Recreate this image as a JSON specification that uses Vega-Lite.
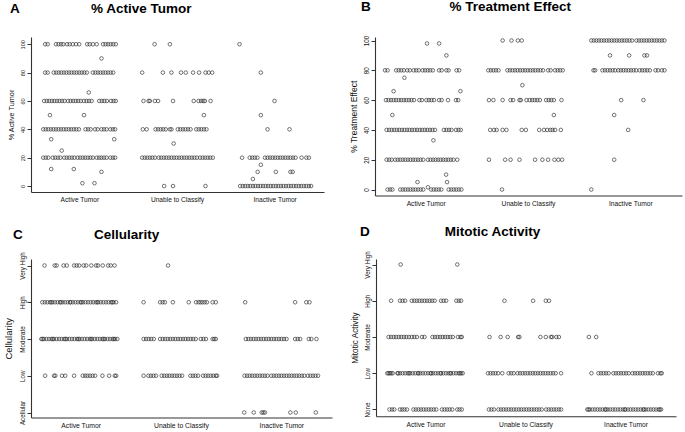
{
"$schema": "https://vega.github.io/schema/vega-lite/v6.json",
"background": "white",
"padding": {"left": 3, "top": 0, "right": 1, "bottom": 1},
"config": {
  "font": "Liberation Sans",
  "view": {"stroke": null},
  "axis": {"grid": false, "domain": true, "domainColor": "#333", "domainWidth": 1.1, "domainOpacity": 1, "tickColor": "#333", "tickWidth": 1, "labelColor": "#111", "titleColor": "#111", "titleFontWeight": "normal", "labelFont": "Liberation Sans", "titleFont": "Liberation Sans"},
  "title": {"font": "Liberation Sans", "fontWeight": "bold", "fontSize": 13.5, "anchor": "start", "frame": "bounds", "color": "#000"},
  "point": {"filled": false, "stroke": "#2a2a2a", "strokeWidth": 0.65, "size": 13, "opacity": 1}
},
"datasets": {
"activeTumor": [
{"group":"AT","value":100,"jitter":-109},{"group":"AT","value":100,"jitter":-101},{"group":"AT","value":100,"jitter":-75},{"group":"AT","value":100,"jitter":-67},{"group":"AT","value":100,"jitter":-59},{"group":"AT","value":100,"jitter":-52},{"group":"AT","value":100,"jitter":-40},{"group":"AT","value":100,"jitter":-32},{"group":"AT","value":100,"jitter":-22},{"group":"AT","value":100,"jitter":-12},{"group":"AT","value":100,"jitter":-2},{"group":"AT","value":100,"jitter":23},{"group":"AT","value":100,"jitter":31},{"group":"AT","value":100,"jitter":41},{"group":"AT","value":100,"jitter":53},{"group":"AT","value":100,"jitter":73},{"group":"AT","value":100,"jitter":81},{"group":"AT","value":100,"jitter":89},{"group":"AT","value":100,"jitter":97},{"group":"AT","value":100,"jitter":105},{"group":"AT","value":100,"jitter":113},
{"group":"AT","value":90,"jitter":68},
{"group":"AT","value":80,"jitter":-109},{"group":"AT","value":80,"jitter":-101},{"group":"AT","value":80,"jitter":-82},{"group":"AT","value":80,"jitter":-74},{"group":"AT","value":80,"jitter":-66},{"group":"AT","value":80,"jitter":-58},{"group":"AT","value":80,"jitter":-50},{"group":"AT","value":80,"jitter":-42},{"group":"AT","value":80,"jitter":-34},{"group":"AT","value":80,"jitter":-26},{"group":"AT","value":80,"jitter":-18},{"group":"AT","value":80,"jitter":-10},{"group":"AT","value":80,"jitter":-2},{"group":"AT","value":80,"jitter":6},{"group":"AT","value":80,"jitter":14},{"group":"AT","value":80,"jitter":22},{"group":"AT","value":80,"jitter":41},{"group":"AT","value":80,"jitter":49},{"group":"AT","value":80,"jitter":57},{"group":"AT","value":80,"jitter":65},{"group":"AT","value":80,"jitter":73},{"group":"AT","value":80,"jitter":81},{"group":"AT","value":80,"jitter":89},{"group":"AT","value":80,"jitter":97},{"group":"AT","value":80,"jitter":105},
{"group":"AT","value":66,"jitter":28},
{"group":"AT","value":60,"jitter":-112},{"group":"AT","value":60,"jitter":-104},{"group":"AT","value":60,"jitter":-96},{"group":"AT","value":60,"jitter":-88},{"group":"AT","value":60,"jitter":-80},{"group":"AT","value":60,"jitter":-72},{"group":"AT","value":60,"jitter":-64},{"group":"AT","value":60,"jitter":-56},{"group":"AT","value":60,"jitter":-48},{"group":"AT","value":60,"jitter":-37},{"group":"AT","value":60,"jitter":-29},{"group":"AT","value":60,"jitter":-21},{"group":"AT","value":60,"jitter":-13},{"group":"AT","value":60,"jitter":-5},{"group":"AT","value":60,"jitter":3},{"group":"AT","value":60,"jitter":13},{"group":"AT","value":60,"jitter":21},{"group":"AT","value":60,"jitter":29},{"group":"AT","value":60,"jitter":37},{"group":"AT","value":60,"jitter":61},{"group":"AT","value":60,"jitter":69},{"group":"AT","value":60,"jitter":77},{"group":"AT","value":60,"jitter":85},{"group":"AT","value":60,"jitter":98},{"group":"AT","value":60,"jitter":106},{"group":"AT","value":60,"jitter":113},
{"group":"AT","value":50,"jitter":-94},{"group":"AT","value":50,"jitter":13},
{"group":"AT","value":40,"jitter":-115},{"group":"AT","value":40,"jitter":-107},{"group":"AT","value":40,"jitter":-99},{"group":"AT","value":40,"jitter":-91},{"group":"AT","value":40,"jitter":-83},{"group":"AT","value":40,"jitter":-75},{"group":"AT","value":40,"jitter":-67},{"group":"AT","value":40,"jitter":-59},{"group":"AT","value":40,"jitter":-51},{"group":"AT","value":40,"jitter":-43},{"group":"AT","value":40,"jitter":-35},{"group":"AT","value":40,"jitter":-27},{"group":"AT","value":40,"jitter":-19},{"group":"AT","value":40,"jitter":-11},{"group":"AT","value":40,"jitter":-3},{"group":"AT","value":40,"jitter":18},{"group":"AT","value":40,"jitter":26},{"group":"AT","value":40,"jitter":34},{"group":"AT","value":40,"jitter":48},{"group":"AT","value":40,"jitter":56},{"group":"AT","value":40,"jitter":68},{"group":"AT","value":40,"jitter":76},{"group":"AT","value":40,"jitter":84},{"group":"AT","value":40,"jitter":96},{"group":"AT","value":40,"jitter":104},{"group":"AT","value":40,"jitter":111},
{"group":"AT","value":33,"jitter":-90},{"group":"AT","value":33,"jitter":108},{"group":"AT","value":25,"jitter":-57},
{"group":"AT","value":20,"jitter":-115},{"group":"AT","value":20,"jitter":-107},{"group":"AT","value":20,"jitter":-99},{"group":"AT","value":20,"jitter":-85},{"group":"AT","value":20,"jitter":-77},{"group":"AT","value":20,"jitter":-69},{"group":"AT","value":20,"jitter":-61},{"group":"AT","value":20,"jitter":-49},{"group":"AT","value":20,"jitter":-41},{"group":"AT","value":20,"jitter":-33},{"group":"AT","value":20,"jitter":-25},{"group":"AT","value":20,"jitter":-17},{"group":"AT","value":20,"jitter":-7},{"group":"AT","value":20,"jitter":1},{"group":"AT","value":20,"jitter":9},{"group":"AT","value":20,"jitter":17},{"group":"AT","value":20,"jitter":25},{"group":"AT","value":20,"jitter":33},{"group":"AT","value":20,"jitter":41},{"group":"AT","value":20,"jitter":53},{"group":"AT","value":20,"jitter":61},{"group":"AT","value":20,"jitter":68},{"group":"AT","value":20,"jitter":76},{"group":"AT","value":20,"jitter":84},{"group":"AT","value":20,"jitter":96},{"group":"AT","value":20,"jitter":104},{"group":"AT","value":20,"jitter":111},
{"group":"AT","value":12,"jitter":-90},{"group":"AT","value":12,"jitter":-19},{"group":"AT","value":10,"jitter":68},{"group":"AT","value":2,"jitter":8},{"group":"AT","value":2,"jitter":46},
{"group":"UC","value":100,"jitter":-72},{"group":"UC","value":100,"jitter":-24},
{"group":"UC","value":80,"jitter":-111},{"group":"UC","value":80,"jitter":-46},{"group":"UC","value":80,"jitter":-19},{"group":"UC","value":80,"jitter":11},{"group":"UC","value":80,"jitter":26},{"group":"UC","value":80,"jitter":49},{"group":"UC","value":80,"jitter":68},{"group":"UC","value":80,"jitter":88},{"group":"UC","value":80,"jitter":98},{"group":"UC","value":80,"jitter":109},
{"group":"UC","value":60,"jitter":-107},{"group":"UC","value":60,"jitter":-91},{"group":"UC","value":60,"jitter":-87},{"group":"UC","value":60,"jitter":-71},{"group":"UC","value":60,"jitter":-61},{"group":"UC","value":60,"jitter":-14},{"group":"UC","value":60,"jitter":51},{"group":"UC","value":60,"jitter":66},{"group":"UC","value":60,"jitter":74},{"group":"UC","value":60,"jitter":81},{"group":"UC","value":60,"jitter":86},{"group":"UC","value":60,"jitter":104},
{"group":"UC","value":50,"jitter":83},
{"group":"UC","value":40,"jitter":-109},{"group":"UC","value":40,"jitter":-97},{"group":"UC","value":40,"jitter":-69},{"group":"UC","value":40,"jitter":-61},{"group":"UC","value":40,"jitter":-53},{"group":"UC","value":40,"jitter":-45},{"group":"UC","value":40,"jitter":-37},{"group":"UC","value":40,"jitter":-24},{"group":"UC","value":40,"jitter":-19},{"group":"UC","value":40,"jitter":1},{"group":"UC","value":40,"jitter":9},{"group":"UC","value":40,"jitter":17},{"group":"UC","value":40,"jitter":25},{"group":"UC","value":40,"jitter":33},{"group":"UC","value":40,"jitter":41},{"group":"UC","value":40,"jitter":59},{"group":"UC","value":40,"jitter":67},{"group":"UC","value":40,"jitter":75},{"group":"UC","value":40,"jitter":83},{"group":"UC","value":40,"jitter":91},
{"group":"UC","value":30,"jitter":-12},
{"group":"UC","value":20,"jitter":-111},{"group":"UC","value":20,"jitter":-103},{"group":"UC","value":20,"jitter":-95},{"group":"UC","value":20,"jitter":-87},{"group":"UC","value":20,"jitter":-79},{"group":"UC","value":20,"jitter":-71},{"group":"UC","value":20,"jitter":-59},{"group":"UC","value":20,"jitter":-51},{"group":"UC","value":20,"jitter":-43},{"group":"UC","value":20,"jitter":-35},{"group":"UC","value":20,"jitter":-27},{"group":"UC","value":20,"jitter":-19},{"group":"UC","value":20,"jitter":-11},{"group":"UC","value":20,"jitter":-3},{"group":"UC","value":20,"jitter":5},{"group":"UC","value":20,"jitter":13},{"group":"UC","value":20,"jitter":21},{"group":"UC","value":20,"jitter":29},{"group":"UC","value":20,"jitter":37},{"group":"UC","value":20,"jitter":45},{"group":"UC","value":20,"jitter":53},{"group":"UC","value":20,"jitter":61},{"group":"UC","value":20,"jitter":71},{"group":"UC","value":20,"jitter":79},{"group":"UC","value":20,"jitter":87},{"group":"UC","value":20,"jitter":95},{"group":"UC","value":20,"jitter":103},{"group":"UC","value":20,"jitter":111},
{"group":"UC","value":0,"jitter":-42},{"group":"UC","value":0,"jitter":-14},{"group":"UC","value":0,"jitter":88},
{"group":"IT","value":100,"jitter":-112},{"group":"IT","value":80,"jitter":-45},{"group":"IT","value":60,"jitter":-2},{"group":"IT","value":50,"jitter":-45},{"group":"IT","value":40,"jitter":-24},{"group":"IT","value":40,"jitter":45},
{"group":"IT","value":20,"jitter":-104},{"group":"IT","value":20,"jitter":-80},{"group":"IT","value":20,"jitter":-72},{"group":"IT","value":20,"jitter":-64},{"group":"IT","value":20,"jitter":-56},{"group":"IT","value":20,"jitter":-32},{"group":"IT","value":20,"jitter":-24},{"group":"IT","value":20,"jitter":-16},{"group":"IT","value":20,"jitter":-8},{"group":"IT","value":20,"jitter":0},{"group":"IT","value":20,"jitter":8},{"group":"IT","value":20,"jitter":16},{"group":"IT","value":20,"jitter":24},{"group":"IT","value":20,"jitter":32},{"group":"IT","value":20,"jitter":40},{"group":"IT","value":20,"jitter":48},{"group":"IT","value":20,"jitter":56},{"group":"IT","value":20,"jitter":64},{"group":"IT","value":20,"jitter":83},{"group":"IT","value":20,"jitter":98},{"group":"IT","value":20,"jitter":106},
{"group":"IT","value":15,"jitter":-45},{"group":"IT","value":10,"jitter":-55},{"group":"IT","value":10,"jitter":2},{"group":"IT","value":10,"jitter":48},{"group":"IT","value":10,"jitter":55},{"group":"IT","value":5,"jitter":-70},
{"group":"IT","value":0,"jitter":-110},{"group":"IT","value":0,"jitter":-102},{"group":"IT","value":0,"jitter":-94},{"group":"IT","value":0,"jitter":-86},{"group":"IT","value":0,"jitter":-78},{"group":"IT","value":0,"jitter":-70},{"group":"IT","value":0,"jitter":-62},{"group":"IT","value":0,"jitter":-54},{"group":"IT","value":0,"jitter":-46},{"group":"IT","value":0,"jitter":-38},{"group":"IT","value":0,"jitter":-30},{"group":"IT","value":0,"jitter":-22},{"group":"IT","value":0,"jitter":-14},{"group":"IT","value":0,"jitter":-6},{"group":"IT","value":0,"jitter":2},{"group":"IT","value":0,"jitter":10},{"group":"IT","value":0,"jitter":18},{"group":"IT","value":0,"jitter":26},{"group":"IT","value":0,"jitter":34},{"group":"IT","value":0,"jitter":42},{"group":"IT","value":0,"jitter":50},{"group":"IT","value":0,"jitter":58},{"group":"IT","value":0,"jitter":66},{"group":"IT","value":0,"jitter":74},{"group":"IT","value":0,"jitter":82},{"group":"IT","value":0,"jitter":90},{"group":"IT","value":0,"jitter":98},{"group":"IT","value":0,"jitter":106},{"group":"IT","value":0,"jitter":113}
],
"treatmentEffect": [
{"group":"AT","value":98,"jitter":10},{"group":"AT","value":98,"jitter":48},{"group":"AT","value":90,"jitter":71},
{"group":"AT","value":80,"jitter":-122},{"group":"AT","value":80,"jitter":-114},{"group":"AT","value":80,"jitter":-87},{"group":"AT","value":80,"jitter":-79},{"group":"AT","value":80,"jitter":-71},{"group":"AT","value":80,"jitter":-63},{"group":"AT","value":80,"jitter":-52},{"group":"AT","value":80,"jitter":-44},{"group":"AT","value":80,"jitter":-32},{"group":"AT","value":80,"jitter":-24},{"group":"AT","value":80,"jitter":-16},{"group":"AT","value":80,"jitter":-4},{"group":"AT","value":80,"jitter":4},{"group":"AT","value":80,"jitter":12},{"group":"AT","value":80,"jitter":20},{"group":"AT","value":80,"jitter":28},{"group":"AT","value":80,"jitter":48},{"group":"AT","value":80,"jitter":56},{"group":"AT","value":80,"jitter":71},{"group":"AT","value":80,"jitter":78},{"group":"AT","value":80,"jitter":103},{"group":"AT","value":80,"jitter":111},
{"group":"AT","value":75,"jitter":-61},{"group":"AT","value":66,"jitter":-95},{"group":"AT","value":66,"jitter":115},
{"group":"AT","value":60,"jitter":-119},{"group":"AT","value":60,"jitter":-111},{"group":"AT","value":60,"jitter":-103},{"group":"AT","value":60,"jitter":-95},{"group":"AT","value":60,"jitter":-87},{"group":"AT","value":60,"jitter":-79},{"group":"AT","value":60,"jitter":-71},{"group":"AT","value":60,"jitter":-63},{"group":"AT","value":60,"jitter":-55},{"group":"AT","value":60,"jitter":-47},{"group":"AT","value":60,"jitter":-39},{"group":"AT","value":60,"jitter":-31},{"group":"AT","value":60,"jitter":-14},{"group":"AT","value":60,"jitter":-6},{"group":"AT","value":60,"jitter":8},{"group":"AT","value":60,"jitter":16},{"group":"AT","value":60,"jitter":24},{"group":"AT","value":60,"jitter":32},{"group":"AT","value":60,"jitter":48},{"group":"AT","value":60,"jitter":56},{"group":"AT","value":60,"jitter":76},{"group":"AT","value":60,"jitter":101},{"group":"AT","value":60,"jitter":108},
{"group":"AT","value":50,"jitter":-99},
{"group":"AT","value":40,"jitter":-117},{"group":"AT","value":40,"jitter":-109},{"group":"AT","value":40,"jitter":-101},{"group":"AT","value":40,"jitter":-93},{"group":"AT","value":40,"jitter":-85},{"group":"AT","value":40,"jitter":-77},{"group":"AT","value":40,"jitter":-69},{"group":"AT","value":40,"jitter":-61},{"group":"AT","value":40,"jitter":-53},{"group":"AT","value":40,"jitter":-45},{"group":"AT","value":40,"jitter":-37},{"group":"AT","value":40,"jitter":-29},{"group":"AT","value":40,"jitter":-21},{"group":"AT","value":40,"jitter":-13},{"group":"AT","value":40,"jitter":-5},{"group":"AT","value":40,"jitter":3},{"group":"AT","value":40,"jitter":11},{"group":"AT","value":40,"jitter":19},{"group":"AT","value":40,"jitter":27},{"group":"AT","value":40,"jitter":35},{"group":"AT","value":40,"jitter":63},{"group":"AT","value":40,"jitter":71},{"group":"AT","value":40,"jitter":79},{"group":"AT","value":40,"jitter":87},{"group":"AT","value":40,"jitter":101},{"group":"AT","value":40,"jitter":109},{"group":"AT","value":40,"jitter":116},
{"group":"AT","value":33,"jitter":30},
{"group":"AT","value":20,"jitter":-117},{"group":"AT","value":20,"jitter":-109},{"group":"AT","value":20,"jitter":-101},{"group":"AT","value":20,"jitter":-90},{"group":"AT","value":20,"jitter":-82},{"group":"AT","value":20,"jitter":-74},{"group":"AT","value":20,"jitter":-66},{"group":"AT","value":20,"jitter":-58},{"group":"AT","value":20,"jitter":-50},{"group":"AT","value":20,"jitter":-42},{"group":"AT","value":20,"jitter":-34},{"group":"AT","value":20,"jitter":-26},{"group":"AT","value":20,"jitter":-18},{"group":"AT","value":20,"jitter":-10},{"group":"AT","value":20,"jitter":-2},{"group":"AT","value":20,"jitter":13},{"group":"AT","value":20,"jitter":21},{"group":"AT","value":20,"jitter":29},{"group":"AT","value":20,"jitter":37},{"group":"AT","value":20,"jitter":45},{"group":"AT","value":20,"jitter":53},{"group":"AT","value":20,"jitter":61},{"group":"AT","value":20,"jitter":69},{"group":"AT","value":20,"jitter":77},{"group":"AT","value":20,"jitter":85},{"group":"AT","value":20,"jitter":93},{"group":"AT","value":20,"jitter":105},
{"group":"AT","value":10,"jitter":70},{"group":"AT","value":5,"jitter":-20},{"group":"AT","value":5,"jitter":73},{"group":"AT","value":1.5,"jitter":13},
{"group":"AT","value":0,"jitter":-114},{"group":"AT","value":0,"jitter":-106},{"group":"AT","value":0,"jitter":-99},{"group":"AT","value":0,"jitter":-74},{"group":"AT","value":0,"jitter":-66},{"group":"AT","value":0,"jitter":-58},{"group":"AT","value":0,"jitter":-50},{"group":"AT","value":0,"jitter":-42},{"group":"AT","value":0,"jitter":-34},{"group":"AT","value":0,"jitter":-26},{"group":"AT","value":0,"jitter":-18},{"group":"AT","value":0,"jitter":-10},{"group":"AT","value":0,"jitter":-2},{"group":"AT","value":0,"jitter":23},{"group":"AT","value":0,"jitter":31},{"group":"AT","value":0,"jitter":39},{"group":"AT","value":0,"jitter":47},{"group":"AT","value":0,"jitter":55},{"group":"AT","value":0,"jitter":78},{"group":"AT","value":0,"jitter":86},{"group":"AT","value":0,"jitter":94},{"group":"AT","value":0,"jitter":102},{"group":"AT","value":0,"jitter":110},{"group":"AT","value":0,"jitter":118},
{"group":"UC","value":100,"jitter":-74},{"group":"UC","value":100,"jitter":-46},{"group":"UC","value":100,"jitter":-26},{"group":"UC","value":100,"jitter":-14},
{"group":"UC","value":80,"jitter":-119},{"group":"UC","value":80,"jitter":-111},{"group":"UC","value":80,"jitter":-103},{"group":"UC","value":80,"jitter":-95},{"group":"UC","value":80,"jitter":-87},{"group":"UC","value":80,"jitter":-59},{"group":"UC","value":80,"jitter":-51},{"group":"UC","value":80,"jitter":-43},{"group":"UC","value":80,"jitter":-35},{"group":"UC","value":80,"jitter":-27},{"group":"UC","value":80,"jitter":-19},{"group":"UC","value":80,"jitter":-11},{"group":"UC","value":80,"jitter":-3},{"group":"UC","value":80,"jitter":5},{"group":"UC","value":80,"jitter":13},{"group":"UC","value":80,"jitter":21},{"group":"UC","value":80,"jitter":29},{"group":"UC","value":80,"jitter":37},{"group":"UC","value":80,"jitter":45},{"group":"UC","value":80,"jitter":53},{"group":"UC","value":80,"jitter":69},{"group":"UC","value":80,"jitter":77},{"group":"UC","value":80,"jitter":91},{"group":"UC","value":80,"jitter":99},{"group":"UC","value":80,"jitter":107},{"group":"UC","value":80,"jitter":115},
{"group":"UC","value":70,"jitter":-12},
{"group":"UC","value":60,"jitter":-117},{"group":"UC","value":60,"jitter":-103},{"group":"UC","value":60,"jitter":-74},{"group":"UC","value":60,"jitter":-49},{"group":"UC","value":60,"jitter":-41},{"group":"UC","value":60,"jitter":-21},{"group":"UC","value":60,"jitter":-17},{"group":"UC","value":60,"jitter":1},{"group":"UC","value":60,"jitter":11},{"group":"UC","value":60,"jitter":19},{"group":"UC","value":60,"jitter":27},{"group":"UC","value":60,"jitter":35},{"group":"UC","value":60,"jitter":43},{"group":"UC","value":60,"jitter":63},{"group":"UC","value":60,"jitter":71},{"group":"UC","value":60,"jitter":79},{"group":"UC","value":60,"jitter":87},{"group":"UC","value":60,"jitter":111},
{"group":"UC","value":50,"jitter":87},
{"group":"UC","value":40,"jitter":-113},{"group":"UC","value":40,"jitter":-101},{"group":"UC","value":40,"jitter":-93},{"group":"UC","value":40,"jitter":-74},{"group":"UC","value":40,"jitter":-62},{"group":"UC","value":40,"jitter":-14},{"group":"UC","value":40,"jitter":-1},{"group":"UC","value":40,"jitter":41},{"group":"UC","value":40,"jitter":56},{"group":"UC","value":40,"jitter":66},{"group":"UC","value":40,"jitter":76},{"group":"UC","value":40,"jitter":83},{"group":"UC","value":40,"jitter":91},{"group":"UC","value":40,"jitter":109},
{"group":"UC","value":20,"jitter":-117},{"group":"UC","value":20,"jitter":-66},{"group":"UC","value":20,"jitter":-49},{"group":"UC","value":20,"jitter":-21},{"group":"UC","value":20,"jitter":28},{"group":"UC","value":20,"jitter":51},{"group":"UC","value":20,"jitter":69},{"group":"UC","value":20,"jitter":89},{"group":"UC","value":20,"jitter":101},{"group":"UC","value":20,"jitter":113},
{"group":"UC","value":0,"jitter":-76},
{"group":"IT","value":100,"jitter":-117},{"group":"IT","value":100,"jitter":-109},{"group":"IT","value":100,"jitter":-101},{"group":"IT","value":100,"jitter":-93},{"group":"IT","value":100,"jitter":-85},{"group":"IT","value":100,"jitter":-77},{"group":"IT","value":100,"jitter":-69},{"group":"IT","value":100,"jitter":-61},{"group":"IT","value":100,"jitter":-53},{"group":"IT","value":100,"jitter":-45},{"group":"IT","value":100,"jitter":-37},{"group":"IT","value":100,"jitter":-29},{"group":"IT","value":100,"jitter":-21},{"group":"IT","value":100,"jitter":-13},{"group":"IT","value":100,"jitter":-5},{"group":"IT","value":100,"jitter":3},{"group":"IT","value":100,"jitter":11},{"group":"IT","value":100,"jitter":25},{"group":"IT","value":100,"jitter":33},{"group":"IT","value":100,"jitter":41},{"group":"IT","value":100,"jitter":49},{"group":"IT","value":100,"jitter":57},{"group":"IT","value":100,"jitter":65},{"group":"IT","value":100,"jitter":73},{"group":"IT","value":100,"jitter":81},{"group":"IT","value":100,"jitter":89},{"group":"IT","value":100,"jitter":97},{"group":"IT","value":100,"jitter":105},{"group":"IT","value":100,"jitter":113},
{"group":"IT","value":90,"jitter":-58},{"group":"IT","value":90,"jitter":2},{"group":"IT","value":90,"jitter":50},{"group":"IT","value":90,"jitter":58},
{"group":"IT","value":80,"jitter":-110},{"group":"IT","value":80,"jitter":-105},{"group":"IT","value":80,"jitter":-82},{"group":"IT","value":80,"jitter":-74},{"group":"IT","value":80,"jitter":-66},{"group":"IT","value":80,"jitter":-58},{"group":"IT","value":80,"jitter":-50},{"group":"IT","value":80,"jitter":-42},{"group":"IT","value":80,"jitter":-32},{"group":"IT","value":80,"jitter":-24},{"group":"IT","value":80,"jitter":-16},{"group":"IT","value":80,"jitter":-8},{"group":"IT","value":80,"jitter":0},{"group":"IT","value":80,"jitter":8},{"group":"IT","value":80,"jitter":16},{"group":"IT","value":80,"jitter":24},{"group":"IT","value":80,"jitter":35},{"group":"IT","value":80,"jitter":43},{"group":"IT","value":80,"jitter":51},{"group":"IT","value":80,"jitter":59},{"group":"IT","value":80,"jitter":67},{"group":"IT","value":80,"jitter":85},{"group":"IT","value":80,"jitter":93},{"group":"IT","value":80,"jitter":105},{"group":"IT","value":80,"jitter":113},
{"group":"IT","value":60,"jitter":-23},{"group":"IT","value":60,"jitter":47},{"group":"IT","value":50,"jitter":-45},{"group":"IT","value":40,"jitter":-1},{"group":"IT","value":20,"jitter":-45},{"group":"IT","value":0,"jitter":-117}
],
"cellularity": [
{"group":"AT","value":4,"jitter":-111},{"group":"AT","value":4,"jitter":-79},{"group":"AT","value":4,"jitter":-73},{"group":"AT","value":4,"jitter":-51},{"group":"AT","value":4,"jitter":-41},{"group":"AT","value":4,"jitter":-18},{"group":"AT","value":4,"jitter":-10},{"group":"AT","value":4,"jitter":-2},{"group":"AT","value":4,"jitter":12},{"group":"AT","value":4,"jitter":20},{"group":"AT","value":4,"jitter":36},{"group":"AT","value":4,"jitter":51},{"group":"AT","value":4,"jitter":57},{"group":"AT","value":4,"jitter":72},{"group":"AT","value":4,"jitter":89},{"group":"AT","value":4,"jitter":97},{"group":"AT","value":4,"jitter":109},
{"group":"AT","value":3,"jitter":-118},{"group":"AT","value":3,"jitter":-110},{"group":"AT","value":3,"jitter":-102},{"group":"AT","value":3,"jitter":-94},{"group":"AT","value":3,"jitter":-86},{"group":"AT","value":3,"jitter":-78},{"group":"AT","value":3,"jitter":-70},{"group":"AT","value":3,"jitter":-62},{"group":"AT","value":3,"jitter":-54},{"group":"AT","value":3,"jitter":-46},{"group":"AT","value":3,"jitter":-38},{"group":"AT","value":3,"jitter":-30},{"group":"AT","value":3,"jitter":-22},{"group":"AT","value":3,"jitter":-14},{"group":"AT","value":3,"jitter":-6},{"group":"AT","value":3,"jitter":2},{"group":"AT","value":3,"jitter":10},{"group":"AT","value":3,"jitter":18},{"group":"AT","value":3,"jitter":26},{"group":"AT","value":3,"jitter":34},{"group":"AT","value":3,"jitter":42},{"group":"AT","value":3,"jitter":50},{"group":"AT","value":3,"jitter":58},{"group":"AT","value":3,"jitter":66},{"group":"AT","value":3,"jitter":74},{"group":"AT","value":3,"jitter":82},{"group":"AT","value":3,"jitter":90},{"group":"AT","value":3,"jitter":98},{"group":"AT","value":3,"jitter":106},{"group":"AT","value":3,"jitter":114},{"group":"AT","value":3,"jitter":-90},{"group":"AT","value":3,"jitter":-60},{"group":"AT","value":3,"jitter":-30},{"group":"AT","value":3,"jitter":5},{"group":"AT","value":3,"jitter":55},{"group":"AT","value":3,"jitter":102},
{"group":"AT","value":2,"jitter":-121},{"group":"AT","value":2,"jitter":-113},{"group":"AT","value":2,"jitter":-105},{"group":"AT","value":2,"jitter":-97},{"group":"AT","value":2,"jitter":-89},{"group":"AT","value":2,"jitter":-81},{"group":"AT","value":2,"jitter":-73},{"group":"AT","value":2,"jitter":-65},{"group":"AT","value":2,"jitter":-57},{"group":"AT","value":2,"jitter":-49},{"group":"AT","value":2,"jitter":-41},{"group":"AT","value":2,"jitter":-33},{"group":"AT","value":2,"jitter":-25},{"group":"AT","value":2,"jitter":-17},{"group":"AT","value":2,"jitter":-9},{"group":"AT","value":2,"jitter":-1},{"group":"AT","value":2,"jitter":7},{"group":"AT","value":2,"jitter":15},{"group":"AT","value":2,"jitter":23},{"group":"AT","value":2,"jitter":31},{"group":"AT","value":2,"jitter":39},{"group":"AT","value":2,"jitter":47},{"group":"AT","value":2,"jitter":55},{"group":"AT","value":2,"jitter":63},{"group":"AT","value":2,"jitter":71},{"group":"AT","value":2,"jitter":79},{"group":"AT","value":2,"jitter":87},{"group":"AT","value":2,"jitter":95},{"group":"AT","value":2,"jitter":103},{"group":"AT","value":2,"jitter":111},{"group":"AT","value":2,"jitter":118},{"group":"AT","value":2,"jitter":-117},{"group":"AT","value":2,"jitter":-85},{"group":"AT","value":2,"jitter":-45},{"group":"AT","value":2,"jitter":-5},{"group":"AT","value":2,"jitter":35},{"group":"AT","value":2,"jitter":75},{"group":"AT","value":2,"jitter":107},
{"group":"AT","value":1,"jitter":-109},{"group":"AT","value":1,"jitter":-81},{"group":"AT","value":1,"jitter":-77},{"group":"AT","value":1,"jitter":-56},{"group":"AT","value":1,"jitter":-46},{"group":"AT","value":1,"jitter":-18},{"group":"AT","value":1,"jitter":9},{"group":"AT","value":1,"jitter":17},{"group":"AT","value":1,"jitter":24},{"group":"AT","value":1,"jitter":32},{"group":"AT","value":1,"jitter":40},{"group":"AT","value":1,"jitter":48},{"group":"AT","value":1,"jitter":71},{"group":"AT","value":1,"jitter":92},{"group":"AT","value":1,"jitter":110},{"group":"AT","value":1,"jitter":114},
{"group":"UC","value":4,"jitter":-38},
{"group":"UC","value":3,"jitter":-115},{"group":"UC","value":3,"jitter":-63},{"group":"UC","value":3,"jitter":-55},{"group":"UC","value":3,"jitter":-48},{"group":"UC","value":3,"jitter":-23},{"group":"UC","value":3,"jitter":27},{"group":"UC","value":3,"jitter":50},{"group":"UC","value":3,"jitter":58},{"group":"UC","value":3,"jitter":64},{"group":"UC","value":3,"jitter":70},{"group":"UC","value":3,"jitter":77},{"group":"UC","value":3,"jitter":84},{"group":"UC","value":3,"jitter":102},{"group":"UC","value":3,"jitter":112},
{"group":"UC","value":2,"jitter":-115},{"group":"UC","value":2,"jitter":-107},{"group":"UC","value":2,"jitter":-99},{"group":"UC","value":2,"jitter":-91},{"group":"UC","value":2,"jitter":-83},{"group":"UC","value":2,"jitter":-63},{"group":"UC","value":2,"jitter":-55},{"group":"UC","value":2,"jitter":-47},{"group":"UC","value":2,"jitter":-39},{"group":"UC","value":2,"jitter":-31},{"group":"UC","value":2,"jitter":-23},{"group":"UC","value":2,"jitter":-15},{"group":"UC","value":2,"jitter":-7},{"group":"UC","value":2,"jitter":1},{"group":"UC","value":2,"jitter":9},{"group":"UC","value":2,"jitter":17},{"group":"UC","value":2,"jitter":25},{"group":"UC","value":2,"jitter":33},{"group":"UC","value":2,"jitter":41},{"group":"UC","value":2,"jitter":49},{"group":"UC","value":2,"jitter":65},{"group":"UC","value":2,"jitter":73},{"group":"UC","value":2,"jitter":81},{"group":"UC","value":2,"jitter":102},{"group":"UC","value":2,"jitter":107},{"group":"UC","value":2,"jitter":112},
{"group":"UC","value":1,"jitter":-115},{"group":"UC","value":1,"jitter":-100},{"group":"UC","value":1,"jitter":-92},{"group":"UC","value":1,"jitter":-84},{"group":"UC","value":1,"jitter":-76},{"group":"UC","value":1,"jitter":-58},{"group":"UC","value":1,"jitter":-50},{"group":"UC","value":1,"jitter":-42},{"group":"UC","value":1,"jitter":-34},{"group":"UC","value":1,"jitter":-26},{"group":"UC","value":1,"jitter":-18},{"group":"UC","value":1,"jitter":-10},{"group":"UC","value":1,"jitter":-2},{"group":"UC","value":1,"jitter":6},{"group":"UC","value":1,"jitter":32},{"group":"UC","value":1,"jitter":40},{"group":"UC","value":1,"jitter":48},{"group":"UC","value":1,"jitter":56},{"group":"UC","value":1,"jitter":72},{"group":"UC","value":1,"jitter":80},{"group":"UC","value":1,"jitter":88},{"group":"UC","value":1,"jitter":96},{"group":"UC","value":1,"jitter":104},{"group":"UC","value":1,"jitter":112},{"group":"UC","value":1,"jitter":116},
{"group":"IT","value":3,"jitter":-111},{"group":"IT","value":3,"jitter":46},{"group":"IT","value":3,"jitter":81},{"group":"IT","value":3,"jitter":91},
{"group":"IT","value":2,"jitter":-109},{"group":"IT","value":2,"jitter":-101},{"group":"IT","value":2,"jitter":-93},{"group":"IT","value":2,"jitter":-85},{"group":"IT","value":2,"jitter":-77},{"group":"IT","value":2,"jitter":-69},{"group":"IT","value":2,"jitter":-61},{"group":"IT","value":2,"jitter":-53},{"group":"IT","value":2,"jitter":-45},{"group":"IT","value":2,"jitter":-37},{"group":"IT","value":2,"jitter":-29},{"group":"IT","value":2,"jitter":-21},{"group":"IT","value":2,"jitter":-13},{"group":"IT","value":2,"jitter":-5},{"group":"IT","value":2,"jitter":3},{"group":"IT","value":2,"jitter":11},{"group":"IT","value":2,"jitter":19},{"group":"IT","value":2,"jitter":46},{"group":"IT","value":2,"jitter":54},{"group":"IT","value":2,"jitter":62},{"group":"IT","value":2,"jitter":89},{"group":"IT","value":2,"jitter":97},{"group":"IT","value":2,"jitter":113},
{"group":"IT","value":1,"jitter":-113},{"group":"IT","value":1,"jitter":-105},{"group":"IT","value":1,"jitter":-97},{"group":"IT","value":1,"jitter":-89},{"group":"IT","value":1,"jitter":-81},{"group":"IT","value":1,"jitter":-73},{"group":"IT","value":1,"jitter":-65},{"group":"IT","value":1,"jitter":-57},{"group":"IT","value":1,"jitter":-49},{"group":"IT","value":1,"jitter":-41},{"group":"IT","value":1,"jitter":-29},{"group":"IT","value":1,"jitter":-21},{"group":"IT","value":1,"jitter":-13},{"group":"IT","value":1,"jitter":-5},{"group":"IT","value":1,"jitter":3},{"group":"IT","value":1,"jitter":11},{"group":"IT","value":1,"jitter":19},{"group":"IT","value":1,"jitter":27},{"group":"IT","value":1,"jitter":35},{"group":"IT","value":1,"jitter":43},{"group":"IT","value":1,"jitter":51},{"group":"IT","value":1,"jitter":59},{"group":"IT","value":1,"jitter":67},{"group":"IT","value":1,"jitter":75},{"group":"IT","value":1,"jitter":86},{"group":"IT","value":1,"jitter":94},{"group":"IT","value":1,"jitter":102},{"group":"IT","value":1,"jitter":110},{"group":"IT","value":1,"jitter":118},
{"group":"IT","value":0,"jitter":-114},{"group":"IT","value":0,"jitter":-84},{"group":"IT","value":0,"jitter":-59},{"group":"IT","value":0,"jitter":-54},{"group":"IT","value":0,"jitter":-49},{"group":"IT","value":0,"jitter":31},{"group":"IT","value":0,"jitter":48},{"group":"IT","value":0,"jitter":111}
],
"mitoticActivity": [
{"group":"AT","value":4,"jitter":-76},{"group":"AT","value":4,"jitter":102},
{"group":"AT","value":3,"jitter":-106},{"group":"AT","value":3,"jitter":-78},{"group":"AT","value":3,"jitter":-70},{"group":"AT","value":3,"jitter":-62},{"group":"AT","value":3,"jitter":-41},{"group":"AT","value":3,"jitter":-33},{"group":"AT","value":3,"jitter":-25},{"group":"AT","value":3,"jitter":-17},{"group":"AT","value":3,"jitter":-9},{"group":"AT","value":3,"jitter":-1},{"group":"AT","value":3,"jitter":7},{"group":"AT","value":3,"jitter":15},{"group":"AT","value":3,"jitter":23},{"group":"AT","value":3,"jitter":31},{"group":"AT","value":3,"jitter":51},{"group":"AT","value":3,"jitter":59},{"group":"AT","value":3,"jitter":67},{"group":"AT","value":3,"jitter":99},{"group":"AT","value":3,"jitter":107},{"group":"AT","value":3,"jitter":114},
{"group":"AT","value":2,"jitter":-114},{"group":"AT","value":2,"jitter":-106},{"group":"AT","value":2,"jitter":-98},{"group":"AT","value":2,"jitter":-90},{"group":"AT","value":2,"jitter":-82},{"group":"AT","value":2,"jitter":-74},{"group":"AT","value":2,"jitter":-66},{"group":"AT","value":2,"jitter":-58},{"group":"AT","value":2,"jitter":-50},{"group":"AT","value":2,"jitter":-41},{"group":"AT","value":2,"jitter":-33},{"group":"AT","value":2,"jitter":-25},{"group":"AT","value":2,"jitter":-9},{"group":"AT","value":2,"jitter":-1},{"group":"AT","value":2,"jitter":24},{"group":"AT","value":2,"jitter":32},{"group":"AT","value":2,"jitter":40},{"group":"AT","value":2,"jitter":48},{"group":"AT","value":2,"jitter":56},{"group":"AT","value":2,"jitter":64},{"group":"AT","value":2,"jitter":72},{"group":"AT","value":2,"jitter":80},{"group":"AT","value":2,"jitter":88},{"group":"AT","value":2,"jitter":104},{"group":"AT","value":2,"jitter":112},{"group":"AT","value":2,"jitter":116},
{"group":"AT","value":1,"jitter":-118},{"group":"AT","value":1,"jitter":-114},{"group":"AT","value":1,"jitter":-110},{"group":"AT","value":1,"jitter":-106},{"group":"AT","value":1,"jitter":-101},{"group":"AT","value":1,"jitter":-86},{"group":"AT","value":1,"jitter":-78},{"group":"AT","value":1,"jitter":-70},{"group":"AT","value":1,"jitter":-62},{"group":"AT","value":1,"jitter":-54},{"group":"AT","value":1,"jitter":-46},{"group":"AT","value":1,"jitter":-38},{"group":"AT","value":1,"jitter":-30},{"group":"AT","value":1,"jitter":-22},{"group":"AT","value":1,"jitter":-14},{"group":"AT","value":1,"jitter":-6},{"group":"AT","value":1,"jitter":2},{"group":"AT","value":1,"jitter":10},{"group":"AT","value":1,"jitter":18},{"group":"AT","value":1,"jitter":26},{"group":"AT","value":1,"jitter":34},{"group":"AT","value":1,"jitter":42},{"group":"AT","value":1,"jitter":50},{"group":"AT","value":1,"jitter":58},{"group":"AT","value":1,"jitter":66},{"group":"AT","value":1,"jitter":74},{"group":"AT","value":1,"jitter":82},{"group":"AT","value":1,"jitter":90},{"group":"AT","value":1,"jitter":98},{"group":"AT","value":1,"jitter":106},{"group":"AT","value":1,"jitter":114},{"group":"AT","value":1,"jitter":119},{"group":"AT","value":1,"jitter":-84},{"group":"AT","value":1,"jitter":-50},{"group":"AT","value":1,"jitter":-20},{"group":"AT","value":1,"jitter":20},{"group":"AT","value":1,"jitter":50},{"group":"AT","value":1,"jitter":80},{"group":"AT","value":1,"jitter":110},
{"group":"AT","value":0,"jitter":-111},{"group":"AT","value":0,"jitter":-103},{"group":"AT","value":0,"jitter":-96},{"group":"AT","value":0,"jitter":-78},{"group":"AT","value":0,"jitter":-71},{"group":"AT","value":0,"jitter":-64},{"group":"AT","value":0,"jitter":-56},{"group":"AT","value":0,"jitter":-36},{"group":"AT","value":0,"jitter":-28},{"group":"AT","value":0,"jitter":-20},{"group":"AT","value":0,"jitter":-12},{"group":"AT","value":0,"jitter":-4},{"group":"AT","value":0,"jitter":4},{"group":"AT","value":0,"jitter":12},{"group":"AT","value":0,"jitter":20},{"group":"AT","value":0,"jitter":28},{"group":"AT","value":0,"jitter":36},{"group":"AT","value":0,"jitter":54},{"group":"AT","value":0,"jitter":62},{"group":"AT","value":0,"jitter":70},{"group":"AT","value":0,"jitter":78},{"group":"AT","value":0,"jitter":86},{"group":"AT","value":0,"jitter":102},{"group":"AT","value":0,"jitter":109},{"group":"AT","value":0,"jitter":116},
{"group":"UC","value":3,"jitter":-64},{"group":"UC","value":3,"jitter":26},{"group":"UC","value":3,"jitter":66},{"group":"UC","value":3,"jitter":76},
{"group":"UC","value":2,"jitter":-111},{"group":"UC","value":2,"jitter":-76},{"group":"UC","value":2,"jitter":-54},{"group":"UC","value":2,"jitter":-21},{"group":"UC","value":2,"jitter":-17},{"group":"UC","value":2,"jitter":49},{"group":"UC","value":2,"jitter":66},{"group":"UC","value":2,"jitter":82},{"group":"UC","value":2,"jitter":86},{"group":"UC","value":2,"jitter":99},{"group":"UC","value":2,"jitter":107},
{"group":"UC","value":1,"jitter":-116},{"group":"UC","value":1,"jitter":-108},{"group":"UC","value":1,"jitter":-100},{"group":"UC","value":1,"jitter":-92},{"group":"UC","value":1,"jitter":-84},{"group":"UC","value":1,"jitter":-71},{"group":"UC","value":1,"jitter":-51},{"group":"UC","value":1,"jitter":-43},{"group":"UC","value":1,"jitter":-35},{"group":"UC","value":1,"jitter":-23},{"group":"UC","value":1,"jitter":-15},{"group":"UC","value":1,"jitter":-7},{"group":"UC","value":1,"jitter":1},{"group":"UC","value":1,"jitter":9},{"group":"UC","value":1,"jitter":17},{"group":"UC","value":1,"jitter":25},{"group":"UC","value":1,"jitter":33},{"group":"UC","value":1,"jitter":41},{"group":"UC","value":1,"jitter":49},{"group":"UC","value":1,"jitter":57},{"group":"UC","value":1,"jitter":65},{"group":"UC","value":1,"jitter":73},{"group":"UC","value":1,"jitter":81},{"group":"UC","value":1,"jitter":89},{"group":"UC","value":1,"jitter":97},{"group":"UC","value":1,"jitter":114},
{"group":"UC","value":0,"jitter":-113},{"group":"UC","value":0,"jitter":-105},{"group":"UC","value":0,"jitter":-97},{"group":"UC","value":0,"jitter":-83},{"group":"UC","value":0,"jitter":-75},{"group":"UC","value":0,"jitter":-67},{"group":"UC","value":0,"jitter":-59},{"group":"UC","value":0,"jitter":-51},{"group":"UC","value":0,"jitter":-43},{"group":"UC","value":0,"jitter":-35},{"group":"UC","value":0,"jitter":-27},{"group":"UC","value":0,"jitter":-19},{"group":"UC","value":0,"jitter":-11},{"group":"UC","value":0,"jitter":-3},{"group":"UC","value":0,"jitter":5},{"group":"UC","value":0,"jitter":13},{"group":"UC","value":0,"jitter":21},{"group":"UC","value":0,"jitter":29},{"group":"UC","value":0,"jitter":37},{"group":"UC","value":0,"jitter":45},{"group":"UC","value":0,"jitter":53},{"group":"UC","value":0,"jitter":67},{"group":"UC","value":0,"jitter":75},{"group":"UC","value":0,"jitter":83},{"group":"UC","value":0,"jitter":91},{"group":"UC","value":0,"jitter":99},{"group":"UC","value":0,"jitter":107},{"group":"UC","value":0,"jitter":114},
{"group":"IT","value":2,"jitter":-113},{"group":"IT","value":2,"jitter":-90},
{"group":"IT","value":1,"jitter":-105},{"group":"IT","value":1,"jitter":-83},{"group":"IT","value":1,"jitter":-75},{"group":"IT","value":1,"jitter":-67},{"group":"IT","value":1,"jitter":-59},{"group":"IT","value":1,"jitter":-51},{"group":"IT","value":1,"jitter":-36},{"group":"IT","value":1,"jitter":-28},{"group":"IT","value":1,"jitter":-20},{"group":"IT","value":1,"jitter":-12},{"group":"IT","value":1,"jitter":-4},{"group":"IT","value":1,"jitter":4},{"group":"IT","value":1,"jitter":12},{"group":"IT","value":1,"jitter":24},{"group":"IT","value":1,"jitter":32},{"group":"IT","value":1,"jitter":40},{"group":"IT","value":1,"jitter":48},{"group":"IT","value":1,"jitter":56},{"group":"IT","value":1,"jitter":64},{"group":"IT","value":1,"jitter":72},{"group":"IT","value":1,"jitter":80},{"group":"IT","value":1,"jitter":88},{"group":"IT","value":1,"jitter":104},{"group":"IT","value":1,"jitter":112},{"group":"IT","value":1,"jitter":116},
{"group":"IT","value":0,"jitter":-118},{"group":"IT","value":0,"jitter":-110},{"group":"IT","value":0,"jitter":-102},{"group":"IT","value":0,"jitter":-94},{"group":"IT","value":0,"jitter":-86},{"group":"IT","value":0,"jitter":-78},{"group":"IT","value":0,"jitter":-70},{"group":"IT","value":0,"jitter":-62},{"group":"IT","value":0,"jitter":-54},{"group":"IT","value":0,"jitter":-46},{"group":"IT","value":0,"jitter":-38},{"group":"IT","value":0,"jitter":-30},{"group":"IT","value":0,"jitter":-22},{"group":"IT","value":0,"jitter":-14},{"group":"IT","value":0,"jitter":-6},{"group":"IT","value":0,"jitter":2},{"group":"IT","value":0,"jitter":10},{"group":"IT","value":0,"jitter":18},{"group":"IT","value":0,"jitter":26},{"group":"IT","value":0,"jitter":34},{"group":"IT","value":0,"jitter":42},{"group":"IT","value":0,"jitter":50},{"group":"IT","value":0,"jitter":58},{"group":"IT","value":0,"jitter":66},{"group":"IT","value":0,"jitter":74},{"group":"IT","value":0,"jitter":82},{"group":"IT","value":0,"jitter":90},{"group":"IT","value":0,"jitter":98},{"group":"IT","value":0,"jitter":106},{"group":"IT","value":0,"jitter":114},{"group":"IT","value":0,"jitter":-114},{"group":"IT","value":0,"jitter":-60},{"group":"IT","value":0,"jitter":0},{"group":"IT","value":0,"jitter":60},{"group":"IT","value":0,"jitter":110}
]
},
"spacing": 17,
"vconcat": [
{"hconcat": [
 {"data": {"name": "activeTumor"}, "width": 293, "height": 155,
  "title": {"text": "A\u00a0\u00a0\u00a0\u00a0\u00a0\u00a0\u00a0\u00a0\u00a0\u00a0\u00a0\u00a0\u00a0\u00a0\u00a0\u00a0\u00a0\u00a0\u00a0% Active Tumor", "offset": 21.5, "dx": 3},
  "mark": {"type": "point"},
  "encoding": {
   "x": {"field": "group", "type": "nominal", "sort": ["AT", "UC", "IT"], "scale": {"paddingInner": 0, "paddingOuter": 0}, "axis": {"title": null, "domain": true, "labelAngle": 0, "ticks": false, "tickSize": 0, "labelPadding": 4, "labelFontSize": 6.6, "labelExpr": "datum.value == 'AT' ? 'Active Tumor' : datum.value == 'UC' ? 'Unable to Classify' : 'Inactive Tumor'"}},
   "xOffset": {"field": "jitter", "type": "quantitative", "scale": {"domain": [-146.5, 146.5]}},
   "y": {"field": "value", "type": "quantitative", "scale": {"domain": [-4.2, 105.1], "nice": false, "zero": false}, "axis": {"title": "% Active Tumor", "domain": true, "values": [0, 20, 40, 60, 80, 100], "labelAngle": 270, "tickSize": 4, "labelPadding": 2, "titlePadding": 5, "labelFontSize": 5.6, "titleFontSize": 7.3}}
  }},
 {"data": {"name": "treatmentEffect"}, "width": 307, "height": 158.5,
  "title": {"text": "B\u00a0\u00a0\u00a0\u00a0\u00a0\u00a0\u00a0\u00a0\u00a0\u00a0\u00a0\u00a0\u00a0\u00a0\u00a0\u00a0\u00a0\u00a0\u00a0\u00a0\u00a0% Treatment Effect", "offset": 21.5, "dx": 12},
  "mark": {"type": "point"},
  "encoding": {
   "x": {"field": "group", "type": "nominal", "sort": ["AT", "UC", "IT"], "scale": {"paddingInner": 0, "paddingOuter": 0}, "axis": {"title": null, "domain": true, "labelAngle": 0, "ticks": false, "tickSize": 0, "labelPadding": 5, "labelFontSize": 6.7, "labelExpr": "datum.value == 'AT' ? 'Active Tumor' : datum.value == 'UC' ? 'Unable to Classify' : 'Inactive Tumor'"}},
   "xOffset": {"field": "jitter", "type": "quantitative", "scale": {"domain": [-153.5, 153.5]}},
   "y": {"field": "value", "type": "quantitative", "scale": {"domain": [-4, 102.35], "nice": false, "zero": false}, "axis": {"title": "% Treatment Effect", "domain": true, "values": [0, 20, 40, 60, 80, 100], "labelAngle": 270, "tickSize": 4, "labelPadding": 2, "titlePadding": 5, "labelFontSize": 6.3, "titleFontSize": 8.5}}
  }}
 ], "spacing": 24},
{"hconcat": [
 {"data": {"name": "cellularity"}, "width": 301, "height": 158.5,
  "title": {"text": "C\u00a0\u00a0\u00a0\u00a0\u00a0\u00a0\u00a0\u00a0\u00a0\u00a0\u00a0\u00a0\u00a0\u00a0\u00a0\u00a0\u00a0\u00a0\u00a0Cellularity", "offset": 10, "dx": 10},
  "mark": {"type": "point"},
  "encoding": {
   "x": {"field": "group", "type": "nominal", "sort": ["AT", "UC", "IT"], "scale": {"paddingInner": 0, "paddingOuter": 0}, "axis": {"title": null, "domain": true, "labelAngle": 0, "ticks": false, "tickSize": 0, "labelPadding": 5, "labelFontSize": 6.8, "labelExpr": "datum.value == 'AT' ? 'Active Tumor' : datum.value == 'UC' ? 'Unable to Classify' : 'Inactive Tumor'"}},
   "xOffset": {"field": "jitter", "type": "quantitative", "scale": {"domain": [-150.5, 150.5]}},
   "y": {"field": "value", "type": "quantitative", "scale": {"domain": [-0.136, 4.177], "nice": false, "zero": false}, "axis": {"title": "Cellularity", "domain": true, "values": [0, 1, 2, 3, 4], "labelExpr": "['Acellular', 'Low', 'Moderate', 'High', 'Very High'][datum.value]", "labelAngle": 270, "tickSize": 4, "labelPadding": 2, "titlePadding": 6, "labelFontSize": 6.3, "titleFontSize": 9.5}}
  }},
 {"data": {"name": "mitoticActivity"}, "width": 300, "height": 157.2,
  "title": {"text": "D\u00a0\u00a0\u00a0\u00a0\u00a0\u00a0\u00a0\u00a0\u00a0\u00a0\u00a0\u00a0\u00a0\u00a0\u00a0\u00a0\u00a0\u00a0\u00a0\u00a0Mitotic Activity", "offset": 12, "dx": 10},
  "mark": {"type": "point"},
  "encoding": {
   "x": {"field": "group", "type": "nominal", "sort": ["AT", "UC", "IT"], "scale": {"paddingInner": 0, "paddingOuter": 0}, "axis": {"title": null, "domain": true, "labelAngle": 0, "ticks": false, "tickSize": 0, "labelPadding": 5, "labelFontSize": 6.7, "labelExpr": "datum.value == 'AT' ? 'Active Tumor' : datum.value == 'UC' ? 'Unable to Classify' : 'Inactive Tumor'"}},
   "xOffset": {"field": "jitter", "type": "quantitative", "scale": {"domain": [-150, 150]}},
   "y": {"field": "value", "type": "quantitative", "scale": {"domain": [-0.185, 4.152], "nice": false, "zero": false}, "axis": {"title": "Mitotic Activity", "domain": true, "values": [0, 1, 2, 3, 4], "labelExpr": "['None', 'Low', 'Moderate', 'High', 'Very High'][datum.value]", "labelAngle": 270, "tickSize": 4, "labelPadding": 2, "titlePadding": 5, "labelFontSize": 6.3, "titleFontSize": 8.2}}
  }}
 ], "spacing": 17}
]
}
